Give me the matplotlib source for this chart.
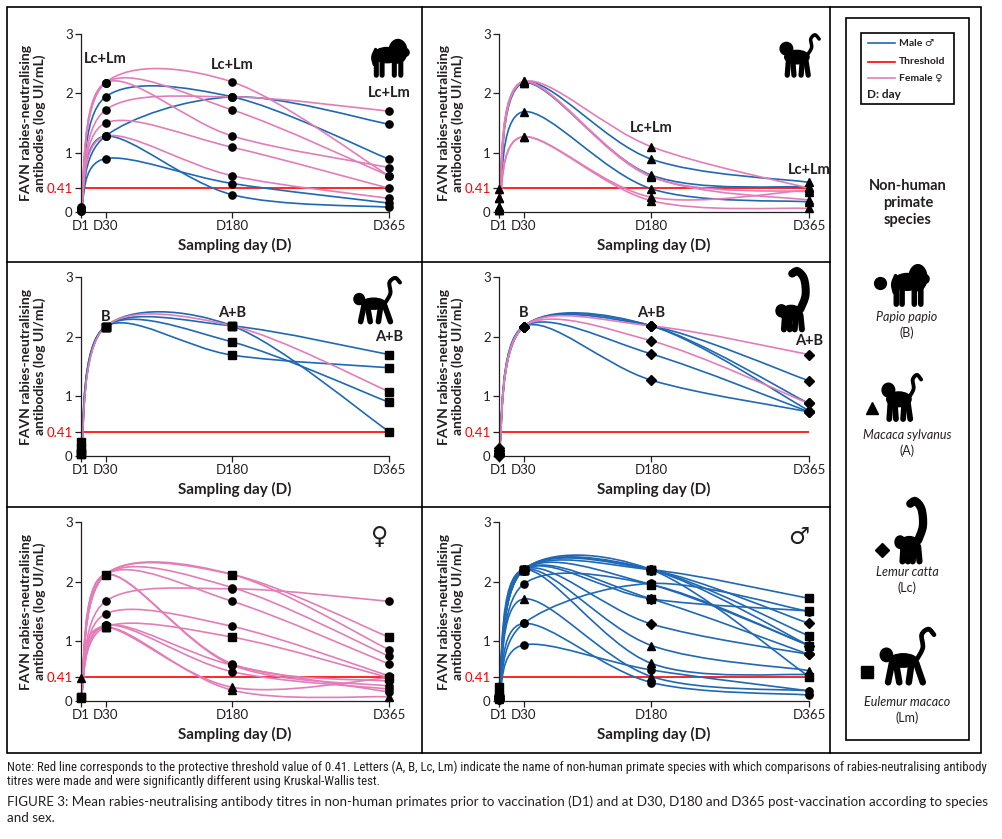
import numpy as np
import matplotlib.pyplot as plt
from matplotlib.path import Path
from matplotlib.patches import PathPatch, Rectangle, Ellipse
from matplotlib import font_manager

plt.rcParams['font.family'] = ['Lato', 'DejaVu Sans']

days = [1, 30, 180, 365]
day_labels = ['D1', 'D30', 'D180', 'D365']
threshold = 0.41

# Papio papio (circles)
papio_male = [[0.05, 1.94, 1.94, 0.89], [0.03, 1.28, 1.94, 1.48],
              [0.06, 1.28, 0.29, 0.08], [0.02, 0.90, 0.48, 0.15]]
papio_female = [[0.05, 2.18, 2.19, 0.61], [0.08, 2.18, 1.72, 0.61],
                [0.03, 2.18, 1.28, 0.75], [0.05, 1.72, 1.94, 1.70],
                [0.02, 1.50, 1.09, 0.40], [0.04, 1.28, 0.61, 0.23]]
papio_notes = [('Lc+Lm', 30, 2.58), ('Lc+Lm', 180, 2.48), ('Lc+Lm', 365, 2.0)]

# Macaca sylvanus (triangles)
macaca_male = [[0.09, 2.18, 0.89, 0.50], [0.23, 2.18, 0.62, 0.42],
               [0.03, 1.69, 0.39, 0.17]]
macaca_female = [[0.38, 2.20, 1.10, 0.40], [0.23, 2.20, 0.59, 0.34],
                 [0.09, 2.19, 0.60, 0.20], [0.03, 1.27, 0.25, 0.37],
                 [0.03, 1.27, 0.19, 0.06]]
macaca_notes = [('Lc+Lm', 180, 1.42), ('Lc+Lm', 365, 0.71)]

# Eulemur macaco (squares)
eulemur_male = [[0.24, 2.17, 2.18, 1.70], [0.07, 2.17, 2.18, 0.41],
                [0.04, 2.17, 1.91, 0.90], [0.13, 2.17, 1.69, 1.48]]
eulemur_female = [[0.04, 2.17, 2.18, 1.08]]
eulemur_notes = [('B', 30, 2.33), ('A+B', 180, 2.4), ('A+B', 365, 2.0)]

# Lemur catta (diamonds)
lemur_male = [[0.05, 2.17, 2.18, 1.26], [0.10, 2.17, 2.18, 0.88],
              [0.02, 2.17, 2.18, 0.76], [0.13, 2.17, 1.71, 0.74],
              [0.00, 2.17, 1.27, 0.74]]
lemur_female = [[0.03, 2.17, 2.18, 1.70], [0.08, 2.17, 1.93, 0.88]]
lemur_notes = [('B', 30, 2.4), ('A+B', 180, 2.4), ('A+B', 365, 1.93)]

# all females / all males
female_values = [[0.06, 2.12, 2.12, 1.07], [0.05, 2.12, 2.12, 0.86],
                 [0.05, 2.12, 1.90, 0.75], [0.05, 1.67, 1.88, 1.67],
                 [0.05, 2.12, 1.67, 0.62], [0.05, 1.46, 1.25, 0.42],
                 [0.06, 1.24, 1.07, 0.39], [0.05, 2.12, 0.62, 0.33],
                 [0.05, 2.12, 0.60, 0.25], [0.05, 1.27, 0.49, 0.20],
                 [0.39, 1.24, 0.23, 0.39], [0.05, 1.24, 0.18, 0.07],
                 [0.05, 1.27, 0.60, 0.15]]
female_markers = ['s', 'o', 'o', 'o', 'o', 'o', 's', 'o', 'o', 'o', '^', '^', 'o']

male_values = [[0.24, 2.20, 2.20, 1.72], [0.07, 2.20, 2.20, 0.41],
               [0.05, 2.20, 1.95, 0.93], [0.10, 2.20, 1.71, 1.51],
               [0.05, 2.20, 2.20, 1.09], [0.05, 2.20, 2.20, 1.30],
               [0.08, 2.20, 2.20, 0.93], [0.04, 2.20, 1.71, 0.78],
               [0.03, 2.20, 1.29, 0.78], [0.05, 1.96, 1.95, 0.93],
               [0.03, 1.30, 1.97, 1.50], [0.06, 1.30, 0.31, 0.10],
               [0.02, 0.94, 0.52, 0.17], [0.09, 2.20, 0.93, 0.51],
               [0.23, 2.20, 0.63, 0.44], [0.03, 1.71, 0.41, 0.17]]
male_markers = ['s', 's', 's', 's', 's', 'D', 'D', 'D', 'D', 'o', 'o', 'o', 'o', '^', '^', '^']

BLUE = '#1f68b3'
PINK = '#e27db8'
TXT = '#231f20'
MS = {'o': 5.2, '^': 5.5, 's': 5.2, 'D': 4.6}

W, H = 1002, 839
fig = plt.figure(figsize=(W / 100, H / 100), dpi=100)
bg = fig.add_axes([0, 0, 1, 1])
bg.set_xlim(0, W)
bg.set_ylim(H, 0)
bg.axis('off')


def smooth(xs, ys):
    # excel style smoothed line (cubic bezier through the points)
    p = np.column_stack([xs, ys]).astype(float)
    n = len(p)
    verts, codes = [p[0]], [Path.MOVETO]
    for i in range(n - 1):
        a = p[i - 1] if i > 0 else p[i]
        d = p[i + 2] if i + 2 < n else p[i + 1]
        verts += [p[i] + (p[i + 1] - a) / 6, p[i + 1] - (d - p[i]) / 6, p[i + 1]]
        codes += [Path.CURVE4] * 3
    return Path(verts, codes)


def panel(box, series, notes=(), sex=None):
    x0, y0, x1, y1 = box
    ax = fig.add_axes([x0 / W, 1 - y1 / H, (x1 - x0) / W, (y1 - y0) / H])
    ax.set_facecolor('none')
    ax.set_xlim(1, 365)
    ax.set_ylim(0, 3)
    ax.axhline(threshold, color='red', lw=1.2, zorder=1)
    for vals, col, mk in series:
        ax.add_patch(PathPatch(smooth(days, vals), fill=False, edgecolor=col,
                               lw=1.2, clip_on=False, zorder=2))
    for vals, col, mk in series:
        ax.plot(days, vals, ls='none', marker=mk, ms=MS[mk], color='black',
                clip_on=False, zorder=3)
    for s, d, v in notes:
        ax.text(d, v, s, ha='center', va='center', fontsize=10.5,
                fontweight='bold', color=TXT)
    if sex:
        ax.text(0.968, 0.915, sex, transform=ax.transAxes, ha='center',
                va='center', fontsize=17, fontweight='bold', color=TXT,
                family=['DejaVu Sans'])
    for s in ['top', 'right']:
        ax.spines[s].set_visible(False)
    for s in ['left', 'bottom']:
        ax.spines[s].set_linewidth(0.9)
        ax.spines[s].set_color(TXT)
    ax.set_xticks(days, day_labels)
    ax.set_yticks([0, threshold, 1, 2, 3], ['0', '0.41', '1', '2', '3'])
    ax.tick_params(direction='out', length=4, width=0.9, labelsize=9.5,
                   colors=TXT, pad=2)
    ax.get_yticklabels()[1].set_color('red')
    ax.text(-48 / (x1 - x0), 0.5, 'FAVN rabies-neutralising\nantibodies (log UI/mL)',
            transform=ax.transAxes, rotation=90, ha='center', va='center',
            multialignment='center', fontsize=10, fontweight='bold', color=TXT,
            linespacing=1.05)
    ax.text(0.5, -33 / (y1 - y0), 'Sampling day (D)', transform=ax.transAxes,
            ha='center', va='center', fontsize=11, fontweight='bold', color=TXT)
    return ax


def sp(male, female, mk):
    return [(v, BLUE, mk) for v in male] + [(v, PINK, mk) for v in female]


LX = (81, 389)
RX = (499, 809)
ROWS = [(34, 212), (277, 456), (522, 701)]

panel((LX[0], ROWS[0][0], LX[1], ROWS[0][1]), sp(papio_male, papio_female, 'o'), papio_notes)
panel((RX[0], ROWS[0][0], RX[1], ROWS[0][1]), sp(macaca_male, macaca_female, '^'), macaca_notes)
panel((LX[0], ROWS[1][0], LX[1], ROWS[1][1]), sp(eulemur_male, eulemur_female, 's'), eulemur_notes)
panel((RX[0], ROWS[1][0], RX[1], ROWS[1][1]), sp(lemur_male, lemur_female, 'D'), lemur_notes)
panel((LX[0], ROWS[2][0], LX[1], ROWS[2][1]),
      [(v, PINK, m) for v, m in zip(female_values, female_markers)], sex='\u2640')
panel((RX[0], ROWS[2][0], RX[1], ROWS[2][1]),
      [(v, BLUE, m) for v, m in zip(male_values, male_markers)], sex='\u2642')

# frames
bg.add_patch(Rectangle((7, 7), 974, 746, fill=False, lw=1.2, ec='black'))
bg.plot([422, 422], [7, 753], color='black', lw=1.2)
bg.plot([830, 830], [7, 753], color='black', lw=1.2)
bg.plot([7, 830], [262, 262], color='black', lw=1.2)
bg.plot([7, 830], [507, 507], color='black', lw=1.2)
bg.add_patch(Rectangle((846, 18), 123, 722, fill=False, lw=1.2, ec='black'))
bg.add_patch(Rectangle((861, 33), 93, 71, fill=False, lw=1.2, ec='black'))

# legend entries
for yy, col, lab in [(43, BLUE, 'Male \u2642'), (62, 'red', 'Threshold'), (78, PINK, 'Female \u2640')]:
    bg.plot([868, 895], [yy, yy], color=col, lw=1.2)
    bg.text(899, yy, lab, ha='left', va='center', fontsize=7.5, fontweight='bold', color=TXT)
bg.text(867, 95, 'D: day', ha='left', va='center', fontsize=8.5, fontweight='bold', color=TXT)
bg.text(908, 203, 'Non-human\nprimate\nspecies', ha='center', va='center',
        fontsize=10.5, fontweight='bold', color=TXT, linespacing=1.3)


def stroke(pts, lw):
    pts = np.array(pts, float)
    bg.add_patch(PathPatch(smooth(pts[:, 0], pts[:, 1]), fill=False, ec='black',
                           lw=lw, capstyle='round'))


def animal(kind, x0, y0, w, h):
    def P(u, v):
        return (x0 + u * w, y0 + v * h)

    def E(u, v, a, b):
        bg.add_patch(Ellipse(P(u, v), a * w, b * h, color='black'))

    lw = max(w, h) * 0.06
    if kind == 'baboon':
        E(0.72, 0.35, 0.5, 0.62)
        E(0.42, 0.45, 0.75, 0.4)
        E(0.93, 0.38, 0.2, 0.2)
        for u, v in [(0.12, 0.45), (0.28, 0.5), (0.62, 0.55), (0.8, 0.55)]:
            stroke([P(u, v), P(u, 0.98)], lw * 1.6)
        stroke([P(0.1, 0.3), P(0.02, 0.5), P(0.06, 0.7)], lw)
    elif kind == 'macaque':
        E(0.2, 0.35, 0.3, 0.3)
        E(0.45, 0.55, 0.58, 0.32)
        for u, u2 in [(0.25, 0.22), (0.35, 0.38), (0.58, 0.55), (0.66, 0.72)]:
            stroke([P(u, 0.6), P(u2, 0.98)], lw * 1.5)
        stroke([P(0.7, 0.5), P(0.8, 0.32), P(0.78, 0.12), P(0.88, 0.02), P(0.98, 0.12)], lw)
    elif kind == 'lemur':
        E(0.42, 0.72, 0.6, 0.26)
        E(0.15, 0.68, 0.3, 0.2)
        for u, u2 in [(0.25, 0.22), (0.35, 0.38), (0.55, 0.52), (0.68, 0.72)]:
            stroke([P(u, 0.75), P(u2, 0.99)], lw * 1.2)
        stroke([P(0.68, 0.65), P(0.82, 0.42), P(0.78, 0.15), P(0.6, 0.02), P(0.45, 0.06)], lw * 1.6)
    else:
        E(0.45, 0.58, 0.5, 0.24)
        E(0.15, 0.48, 0.22, 0.24)
        for a, b in [((0.25, 0.62), (0.18, 0.97)), ((0.32, 0.62), (0.38, 0.97)),
                     ((0.6, 0.62), (0.55, 0.97)), ((0.68, 0.62), (0.8, 0.97))]:
            stroke([P(*a), P(*b)], lw * 1.4)
        stroke([P(0.7, 0.55), P(0.8, 0.35), P(0.78, 0.12), P(0.9, 0.02), P(1.0, 0.12)], lw)


animal('baboon', 372, 38, 36, 38)
animal('macaque', 778, 34, 42, 42)
animal('monkey', 352, 277, 48, 46)
animal('lemur', 776, 270, 36, 60)

species = [('Papio papio', '(B)', 'o', 880, 283, 317, 'baboon', (892, 263, 36, 42)),
           ('Macaca sylvanus', '(A)', '^', 872, 408, 435, 'macaque', (880, 374, 42, 46)),
           ('Lemur catta', '(Lc)', 'D', 882, 550, 572, 'lemur', (895, 500, 34, 62)),
           ('Eulemur macaco', '(Lm)', 's', 867, 672, 702, 'monkey', (878, 628, 56, 56))]
for name, code, mk, mx, my, ny, kind, box in species:
    bg.plot([mx], [my], marker=mk, ms=8.5 if mk != 'D' else 7.5, color='black', ls='none')
    bg.text(907, ny, name, ha='center', va='center', fontsize=9, style='italic', color=TXT)
    bg.text(907, ny + 16, code, ha='center', va='center', fontsize=9, color=TXT)
    animal(kind, *box)


def narrow_family():
    for fam in ['Liberation Sans Narrow', 'Roboto Condensed', 'DejaVu Sans Condensed']:
        try:
            font_manager.findfont(font_manager.FontProperties(family=fam), fallback_to_default=False)
            return fam
        except Exception:
            pass
    return 'DejaVu Sans'


renderer = fig.canvas.get_renderer()


def fit(t, target):
    t.set_fontsize(t.get_fontsize() * target / t.get_window_extent(renderer).width)
    return t.get_fontsize()


nf = narrow_family()
n1 = bg.text(7, 767, 'Note: Red line corresponds to the protective threshold value of 0.41. '
             'Letters (A, B, Lc, Lm) indicate the name of non-human primate species with which '
             'comparisons of rabies-neutralising antibody', ha='left', va='center',
             fontsize=9, family=nf, color=TXT)
fs = fit(n1, 978)
bg.text(7, 782, 'titres were made and were significantly different using Kruskal-Wallis test.',
        ha='left', va='center', fontsize=fs, family=nf, color=TXT)
c1 = bg.text(7, 802, 'FIGURE 3: Mean rabies-neutralising antibody titres in non-human primates '
             'prior to vaccination (D1) and at D30, D180 and D365 post-vaccination according to species',
             ha='left', va='center', fontsize=10, color=TXT)
fs2 = fit(c1, 976)
bg.text(7, 818, 'and sex.', ha='left', va='center', fontsize=fs2, color=TXT)

fig.savefig('out.png', dpi=100)
